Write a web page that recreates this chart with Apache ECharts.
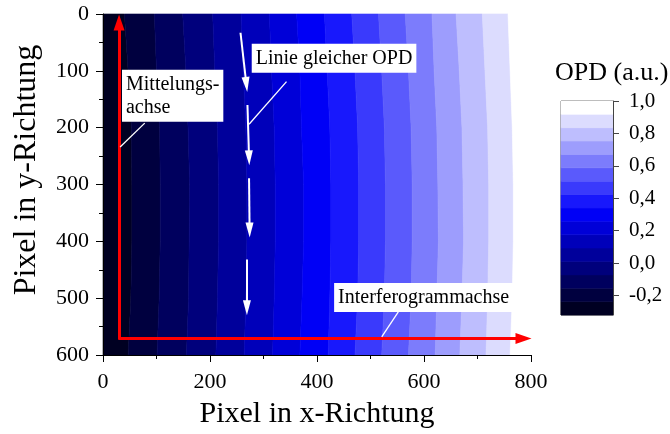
<!DOCTYPE html>
<html><head><meta charset="utf-8">
<script src="https://cdn.jsdelivr.net/npm/echarts@6/dist/echarts.min.js"></script>
<style>html,body{margin:0;padding:0;background:#fff}#c{width:670px;height:434px}</style>
</head><body><div id="c"></div>
<script>
// y positions (pixel rows) at which the contour boundaries were read
const ySamples = [0, 100, 200, 300, 400, 500, 600];
// x position of each OPD contour boundary (15 levels), one row per y sample
const contourRows = [
  [40, 96, 149, 205, 258, 311, 362, 414, 465, 515, 565, 615, 660, 709, 757],
  [47, 100, 155, 209, 262, 315, 368, 419, 471, 521, 571, 619, 666, 714, 761],
  [53, 106, 159, 214, 267, 320, 371, 424, 476, 526, 576, 624, 671, 719, 765],
  [54, 107, 162, 216, 269, 322, 375, 426, 478, 528, 578, 626, 673, 721, 767],
  [54, 107, 161, 216, 269, 322, 375, 426, 478, 528, 578, 627, 674, 721, 767],
  [52, 105, 160, 214, 267, 320, 372, 424, 476, 526, 576, 624, 671, 719, 765],
  [47, 101, 156, 211, 264, 317, 368, 421, 471, 521, 571, 621, 667, 716, 761]
];
// OPD levels (band edges of the colour scale)
const levels = [-0.32, -0.238, -0.155, -0.073, 0.01, 0.093, 0.175, 0.258, 0.34, 0.423, 0.505, 0.588, 0.67, 0.753, 0.835, 0.918, 1.0];
const bandColors = ['#000022', '#00003f', '#00005e', '#00007c', '#00009b', '#0000ba', '#0000d8', '#0000f6',
                    '#1818fc', '#3a3afc', '#5a5afc', '#7c7cfc', '#9d9dfd', '#bebefe', '#dcdcfe', '#ffffff'];
const cbTicks = [-0.2, 0, 0.2, 0.4, 0.6, 0.8, 1.0];

// annotations (data coordinates)
const redArrows = [[[30, 573], [30, 15]], [[30, 571], [786, 571]]];
const whiteArrows = [[[257, 33], [268, 124]], [[270, 160], [273, 253]], [[273, 289], [274, 380]], [[269, 432], [269, 517]]];
const pointerLines = [[[32, 234], [78, 192]], [[343, 119], [273, 194]], [[552, 524], [521, 568]]];
const labelBoxes = [
  {text: 'Mittelungs-\nachse', at: [35.5, 144]},
  {text: 'Linie gleicher OPD', at: [278, 78]},
  {text: 'Interferogrammachse', at: [432, 499]}
];

const FONT = 'Liberation Serif';
const chart = echarts.init(document.getElementById('c'), null, {renderer: 'canvas'});

function seg(list, color, width, arrow, size) {
  return list.map(s => [
    {coord: s[0], symbol: 'none', lineStyle: {color: color, width: width, type: 'solid'}},
    {coord: s[1], symbol: arrow ? 'triangle' : 'none', symbolSize: size,
     lineStyle: {color: color, width: width, type: 'solid'}}
  ]);
}

const option = {
  animation: false,
  title: {
    text: 'OPD (a.u.)', left: 555, top: 60, padding: 0,
    textStyle: {fontFamily: FONT, fontSize: 26, fontWeight: 'normal', color: '#000'}
  },
  grid: [
    {left: 103, top: 14, width: 428, height: 341},
    {left: 561, top: 101, width: 52, height: 214, show: true, borderColor: '#444', borderWidth: 1, backgroundColor: 'transparent'}
  ],
  xAxis: [
    {
      gridIndex: 0, type: 'value', min: 0, max: 800, interval: 200, z: 5, position: 'bottom',
      axisLine: {onZero: false, lineStyle: {color: '#000', width: 1}},
      axisTick: {length: 7, lineStyle: {color: '#000'}},
      minorTick: {show: true, splitNumber: 2, length: 4, lineStyle: {color: '#000'}},
      splitLine: {show: false},
      axisLabel: {fontFamily: FONT, fontSize: 22, color: '#000', margin: 16},
      name: 'Pixel in x-Richtung', nameLocation: 'middle', nameGap: 44,
      nameTextStyle: {fontFamily: FONT, fontSize: 30, color: '#000'}
    },
    {gridIndex: 1, type: 'value', min: 0, max: 1, show: false}
  ],
  yAxis: [
    {
      gridIndex: 0, type: 'value', min: 0, max: 600, interval: 100, inverse: true, z: 5, position: 'left',
      axisLine: {onZero: false, lineStyle: {color: '#000', width: 1}},
      axisTick: {length: 7, lineStyle: {color: '#000'}},
      minorTick: {show: true, splitNumber: 2, length: 4, lineStyle: {color: '#000'}},
      splitLine: {show: false},
      axisLabel: {fontFamily: FONT, fontSize: 22, color: '#000', margin: 14},
      name: 'Pixel in y-Richtung', nameLocation: 'middle', nameGap: 60,
      nameTextStyle: {fontFamily: FONT, fontSize: 32, color: '#000', padding: [0, 0, 0, 29]}
    },
    {
      gridIndex: 1, type: 'value', min: levels[0], max: levels[levels.length - 1], position: 'right', z: 5,
      axisLine: {show: true, onZero: false, lineStyle: {color: '#444', width: 1}},
      axisTick: {show: true, length: 6, customValues: cbTicks, lineStyle: {color: '#444'}},
      splitLine: {show: false},
      axisLabel: {
        customValues: cbTicks, fontFamily: FONT, fontSize: 21, color: '#000', margin: 16,
        formatter: v => v.toFixed(1).replace('.', ',')
      }
    }
  ],
  series: [
    {
      type: 'custom', xAxisIndex: 0, yAxisIndex: 0, silent: true,
      data: bandColors.map((c, i) => [i, 0]),
      renderItem: function (params, api) {
        const i = params.dataIndex;
        const last = bandColors.length - 1;
        const pts = [];
        for (let r = 0; r < ySamples.length; r++) {
          const xl = i === 0 ? 0 : contourRows[r][i - 1];
          pts.push(api.coord([xl, ySamples[r]]));
        }
        for (let r = ySamples.length - 1; r >= 0; r--) {
          const xr = i === last ? 800 : contourRows[r][i];
          pts.push(api.coord([xr, ySamples[r]]));
        }
        return {type: 'polygon', shape: {points: pts},
                style: {fill: bandColors[i], stroke: bandColors[i], lineWidth: 0.6}};
      },
      markLine: {
        silent: true, animation: false,
        symbol: ['none', 'none'],
        label: {show: false},
        emphasis: {disabled: true},
        data: [].concat(
          seg(redArrows, '#ff0000', 3, true, [11, 16]),
          seg(whiteArrows, '#ffffff', 2, true, [8, 15]),
          seg(pointerLines, '#ffffff', 1.3, false, 0)
        )
      },
      markPoint: {
        silent: true, animation: false,
        data: labelBoxes.map(b => ({
          coord: b.at, name: b.text, symbol: 'rect', symbolSize: 0,
          itemStyle: {color: 'transparent'},
          label: {
            show: true, position: 'inside', align: 'left', verticalAlign: 'middle',
            formatter: '{b}', fontFamily: FONT, fontSize: 20, lineHeight: 23,
            color: '#000', backgroundColor: '#ffffff', padding: [3, 4]
          }
        }))
      }
    },
    {
      type: 'custom', xAxisIndex: 1, yAxisIndex: 1, silent: true,
      data: bandColors.map((c, i) => [0, levels[i]]),
      renderItem: function (params, api) {
        const i = params.dataIndex;
        const p0 = api.coord([0, levels[i]]);
        const p1 = api.coord([1, levels[i + 1]]);
        return {type: 'rect', shape: {x: p0[0], y: p1[1], width: p1[0] - p0[0], height: p0[1] - p1[1]},
                style: {fill: bandColors[i], stroke: bandColors[i], lineWidth: 0.6}};
      }
    }
  ]
};
chart.setOption(option);
</script>
</body></html>
